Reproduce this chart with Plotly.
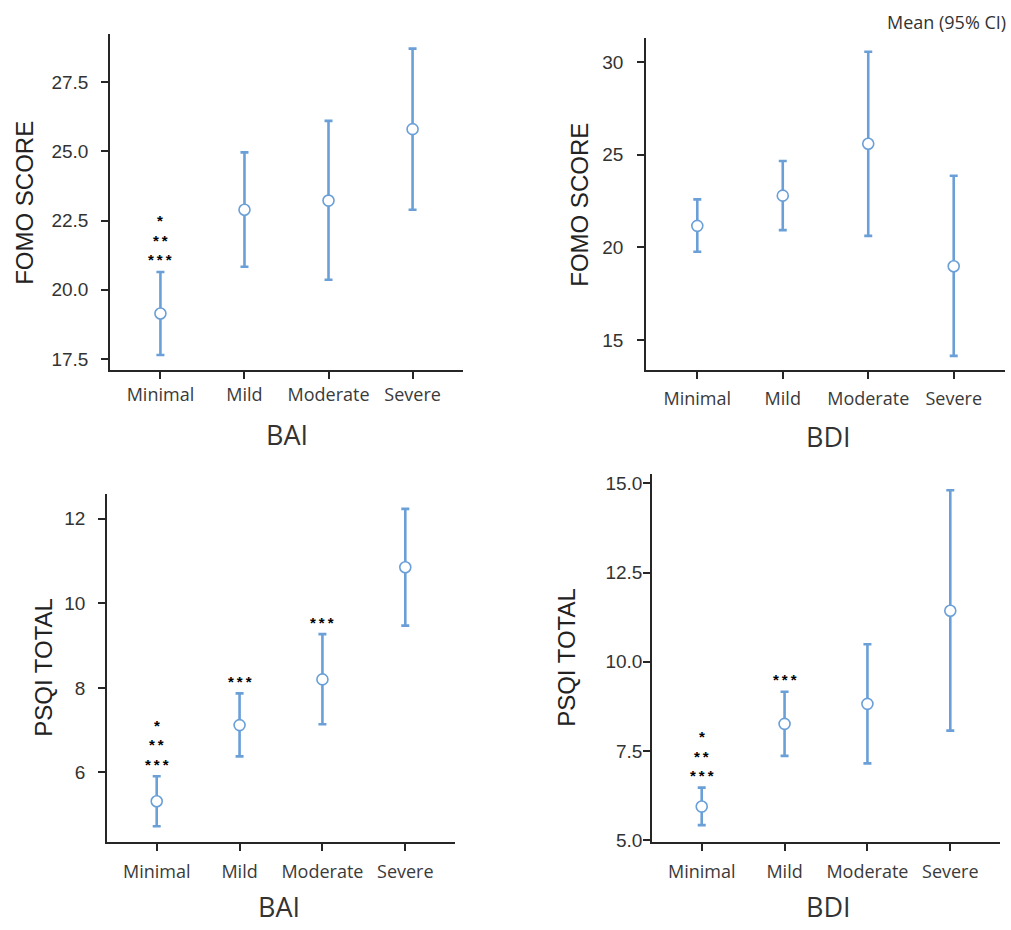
import plotly.graph_objects as go

categories = ["Minimal", "Mild", "Moderate", "Severe"]

# Panel A: FOMO score by BAI
fomo_bai_mean = [19.14, 22.89, 23.22, 25.80]
fomo_bai_low = [17.64, 20.83, 20.36, 22.89]
fomo_bai_high = [20.64, 24.96, 26.10, 28.71]
fomo_bai_stars = [["*", "**", "***"], [], [], []]

# Panel B: FOMO score by BDI
fomo_bdi_mean = [21.16, 22.79, 25.59, 18.98]
fomo_bdi_low = [19.76, 20.93, 20.62, 14.14]
fomo_bdi_high = [22.59, 24.66, 30.56, 23.86]
fomo_bdi_stars = [[], [], [], []]

# Panel C: PSQI total by BAI
psqi_bai_mean = [5.32, 7.12, 8.20, 10.85]
psqi_bai_low = [4.73, 6.38, 7.14, 9.47]
psqi_bai_high = [5.91, 7.87, 9.27, 12.23]
psqi_bai_stars = [["*", "**", "***"], ["***"], ["***"], []]

# Panel D: PSQI total by BDI
psqi_bdi_mean = [5.94, 8.26, 8.82, 11.43]
psqi_bdi_low = [5.42, 7.36, 7.15, 8.07]
psqi_bdi_high = [6.47, 9.16, 10.49, 14.81]
psqi_bdi_stars = [["*", "**", "***"], ["***"], [], []]

y_ticks_a = [17.5, 20.0, 22.5, 25.0, 27.5]
y_ticks_b = [15, 20, 25, 30]
y_ticks_c = [6, 8, 10, 12]
y_ticks_d = [5.0, 7.5, 10.0, 12.5, 15.0]

W, H = 1011, 930
BLUE = "#6a9fd8"
AXIS = "#262626"

panels = [
    dict(mean=fomo_bai_mean, low=fomo_bai_low, high=fomo_bai_high, stars=fomo_bai_stars,
         yticks=y_ticks_a, fmt=".1f", yrange=[17.1, 29.25], ytitle="FOMO SCORE", xtitle="BAI",
         px=(110, 463), py=(33, 373), ytx=25, yty=204, xtx=287, xty=438, ystand=9, xstand=1),
    dict(mean=fomo_bdi_mean, low=fomo_bdi_low, high=fomo_bdi_high, stars=fomo_bdi_stars,
         yticks=y_ticks_b, fmt="d", yrange=[13.38, 31.32], ytitle="FOMO SCORE", xtitle="BDI",
         px=(646, 1005), py=(37, 373), ytx=580, yty=206, xtx=828, xty=440, ystand=10, xstand=5),
    dict(mean=psqi_bai_mean, low=psqi_bai_low, high=psqi_bai_high, stars=psqi_bai_stars,
         yticks=y_ticks_c, fmt="d", yrange=[4.36, 12.59], ytitle="PSQI TOTAL", xtitle="BAI",
         px=(107, 455), py=(498, 850), ytx=44, yty=674, xtx=279, xty=915, ystand=9, xstand=6),
    dict(mean=psqi_bdi_mean, low=psqi_bdi_low, high=psqi_bdi_high, stars=psqi_bdi_stars,
         yticks=y_ticks_d, fmt=".1f", yrange=[4.95, 15.27], ytitle="PSQI TOTAL", xtitle="BDI",
         px=(652, 1000), py=(478, 850), ytx=567, yty=664, xtx=828, xty=915, ystand=-3, xstand=6),
]

fig = go.Figure()
annotations = []

for i, p in enumerate(panels, start=1):
    xa = "x" if i == 1 else f"x{i}"
    ya = "y" if i == 1 else f"y{i}"
    err_plus = [h - m for h, m in zip(p["high"], p["mean"])]
    err_minus = [m - l for m, l in zip(p["mean"], p["low"])]
    fig.add_trace(go.Scatter(
        x=categories, y=p["mean"], mode="markers", xaxis=xa, yaxis=ya,
        marker=dict(symbol="circle", size=11, color="white", line=dict(color=BLUE, width=1.6)),
        error_y=dict(type="data", symmetric=False, array=err_plus, arrayminus=err_minus,
                     color=BLUE, thickness=2.6, width=4),
        showlegend=False, hoverinfo="skip",
    ))
    xdom = [p["px"][0] / W, p["px"][1] / W]
    ydom = [1 - p["py"][1] / H, 1 - p["py"][0] / H]
    axis_common = dict(showline=True, linecolor=AXIS, linewidth=1.6, ticks="outside",
                       ticklen=7, tickwidth=1.6, tickcolor=AXIS, showgrid=False,
                       zeroline=False, fixedrange=True)
    fig.update_layout(**{
        ("xaxis" if i == 1 else f"xaxis{i}"): dict(
            domain=xdom, anchor=ya, type="category", categoryorder="array",
            categoryarray=categories, range=[-0.6, 3.6],
            tickfont=dict(family="Open Sans", size=18, color="#3a3a3a"),
            ticklabelstandoff=p["xstand"], **axis_common),
        ("yaxis" if i == 1 else f"yaxis{i}"): dict(
            domain=ydom, anchor=xa, range=p["yrange"], tickvals=p["yticks"],
            ticktext=[format(v, p["fmt"]) if p["fmt"] != "d" else str(int(v)) for v in p["yticks"]],
            tickfont=dict(family="Liberation Sans", size=19, color="#333333"),
            ticklabelstandoff=p["ystand"], **axis_common),
    })
    # axis titles
    annotations.append(dict(text=p["ytitle"], xref="paper", yref="paper",
                            x=p["ytx"] / W, y=1 - p["yty"] / H, xanchor="center", yanchor="middle",
                            textangle=-90, showarrow=False,
                            font=dict(family="Liberation Sans", size=24, color="#222222")))
    annotations.append(dict(text=p["xtitle"], xref="paper", yref="paper",
                            x=p["xtx"] / W, y=1 - p["xty"] / H, xanchor="center", yanchor="middle",
                            showarrow=False,
                            font=dict(family="Open Sans", size=27, color="#333333")))
    # significance stars stacked above upper CI
    for cat, hi, stars in zip(categories, p["high"], p["stars"]):
        for k, s in enumerate(reversed(stars)):
            annotations.append(dict(text="<b>" + "\u2009".join(s) + "</b>", x=cat, y=hi,
                                    xref=xa, yref=ya,
                                    xanchor="center", yanchor="middle", showarrow=False,
                                    yshift=12 + k * 19.5,
                                    font=dict(family="Liberation Sans", size=15, color="#000000")))

annotations.append(dict(text="Mean (95% CI)", xref="paper", yref="paper",
                        x=1008 / W, y=1 - 21 / H, xanchor="right", yanchor="middle",
                        showarrow=False, font=dict(family="Open Sans", size=18, color="#333333")))

fig.update_layout(width=W, height=H, margin=dict(l=0, r=0, t=0, b=0),
                  paper_bgcolor="white", plot_bgcolor="white", annotations=annotations)

fig.write_html("out.html", config={"displayModeBar": False},
               post_script="document.body.style.margin='0';")
